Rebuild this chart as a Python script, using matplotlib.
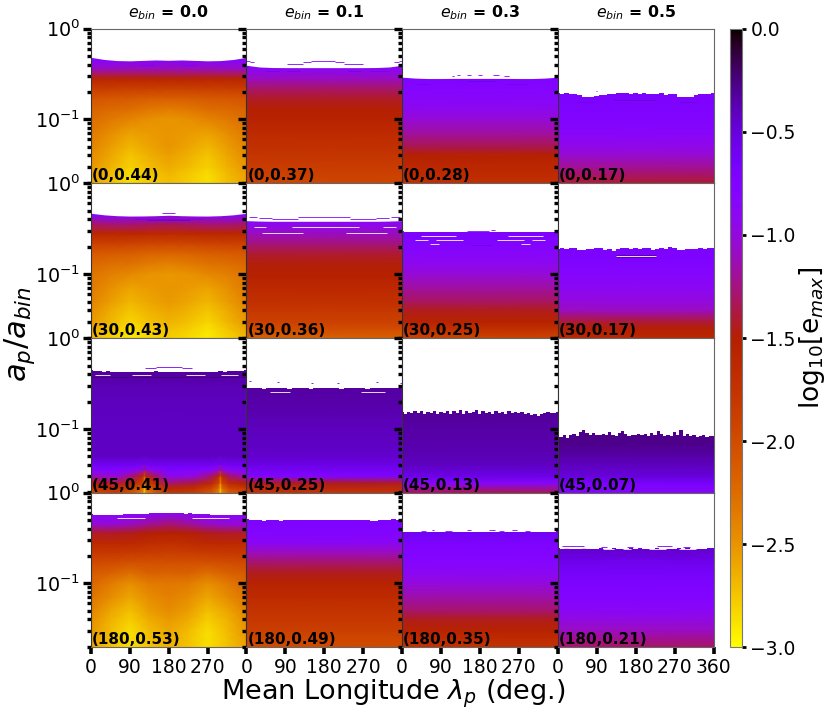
import numpy as np
import matplotlib
matplotlib.use("Agg")
import matplotlib.pyplot as plt
from matplotlib.colors import Normalize
from matplotlib.cm import ScalarMappable
from matplotlib.ticker import LogLocator, NullFormatter

W, H = 830, 719
ebin_labels = ["0.0", "0.1", "0.3", "0.5"]
xtick_vals = [0, 90, 180, 270]
cbar_ticks = [-3.0, -2.5, -2.0, -1.5, -1.0, -0.5, 0.0]

# semi-major axis levels (a_p/a_bin), bottom to top
L = [0.019, 0.025, 0.03, 0.04, 0.05, 0.07, 0.10, 0.13, 0.17, 0.22, 0.28, 0.36, 0.45, 0.60]
# half-range longitudes for the panels that vary with longitude (mirrored about 180)
LON_HALF = [0, 45, 90, 135, 180]

E00 = [[-2.60, -2.72, -2.87, -2.78, -2.72],
       [-2.56, -2.70, -2.85, -2.76, -2.68],
       [-2.50, -2.65, -2.80, -2.70, -2.62],
       [-2.45, -2.60, -2.75, -2.64, -2.56],
       [-2.40, -2.55, -2.68, -2.58, -2.50],
       [-2.34, -2.47, -2.57, -2.54, -2.50],
       [-2.26, -2.34, -2.41, -2.48, -2.50],
       [-2.18, -2.23, -2.26, -2.33, -2.36],
       [-2.08, -2.10, -2.12, -2.15, -2.15],
       [-1.85, -1.85, -1.87, -1.87, -1.88],
       [-1.58, -1.58, -1.58, -1.58, -1.58],
       [-1.10, -1.10, -1.12, -1.12, -1.12],
       [-0.82, -0.82, -0.82, -0.82, -0.82],
       [-0.80, -0.80, -0.80, -0.80, -0.80]]
E10 = [[-2.70, -2.82, -2.92, -2.85, -2.80],
       [-2.60, -2.75, -2.88, -2.78, -2.72],
       [-2.52, -2.68, -2.82, -2.72, -2.65],
       [-2.45, -2.62, -2.75, -2.66, -2.58],
       [-2.40, -2.55, -2.68, -2.60, -2.52],
       [-2.34, -2.48, -2.58, -2.54, -2.50],
       [-2.30, -2.37, -2.43, -2.49, -2.51],
       [-2.22, -2.27, -2.29, -2.35, -2.39],
       [-2.10, -2.13, -2.15, -2.18, -2.20],
       [-1.88, -1.88, -1.90, -1.93, -1.93],
       [-1.60, -1.60, -1.60, -1.62, -1.64],
       [-1.28, -1.25, -1.25, -1.28, -1.32],
       [-0.82, -0.82, -0.82, -0.82, -0.82],
       [-0.80, -0.80, -0.80, -0.80, -0.80]]
E30 = [[-2.58, -2.72, -2.86, -2.74, -2.66],
       [-2.54, -2.72, -2.86, -2.72, -2.63],
       [-2.50, -2.70, -2.85, -2.70, -2.60],
       [-2.45, -2.65, -2.78, -2.62, -2.52],
       [-2.40, -2.60, -2.72, -2.55, -2.45],
       [-2.30, -2.45, -2.60, -2.45, -2.38],
       [-2.20, -2.35, -2.47, -2.35, -2.33],
       [-2.12, -2.17, -2.27, -2.17, -2.19],
       [-1.98, -2.00, -2.03, -2.03, -2.03],
       [-1.80, -1.80, -1.82, -1.85, -1.87],
       [-1.62, -1.62, -1.62, -1.67, -1.70],
       [-1.42, -1.42, -1.45, -1.50, -1.52],
       [-1.02, -1.02, -1.08, -1.20, -1.28],
       [-0.80, -0.80, -0.80, -0.80, -0.85]]

# the (45, .) panel of the first column: a low band with two cusps, then a plain profile
LOW20_L = [0.019, 0.022, 0.025, 0.03, 0.035, 0.04, 0.05]
LOW20_LON = [0, 60, 100, 118, 122, 124, 126, 130, 150, 180, 240, 280, 294, 298, 300, 302, 306, 320, 360]
_c0 = [-2.00, -1.80, -1.50, -1.10, -0.80, -0.60, -0.42]
_c60 = [-1.90, -1.70, -1.40, -1.00, -0.78, -0.60, -0.42]
_c100 = [-2.15, -1.95, -1.65, -1.30, -0.88, -0.62, -0.42]
_c118 = [-2.40, -2.20, -1.90, -1.60, -1.00, -0.65, -0.42]
_c122 = [-2.55, -2.40, -2.10, -1.75, -1.15, -0.68, -0.42]
_c124 = [-2.85, -2.75, -2.55, -2.10, -1.35, -0.72, -0.42]
_c180 = [-1.80, -1.60, -1.30, -0.90, -0.75, -0.60, -0.42]
LOW20 = [_c0, _c60, _c100, _c118, _c122, _c124, _c122, _c118, _c100, _c180,
         _c60, _c100, _c118, _c122, _c124, _c122, _c118, _c100, _c0]
UP20_L = [0.05, 0.10, 0.20, 0.30, 0.40, 0.60]
UP20 = [-0.42, -0.42, -0.40, -0.38, -0.33, -0.30]

# plain vertical profiles on levels L
E01 = [-1.95, -1.90, -1.85, -1.78, -1.72, -1.65, -1.55, -1.50, -1.42, -1.30, -1.10, -0.90, -0.80, -0.80]
E02 = [-1.70, -1.65, -1.60, -1.52, -1.35, -1.18, -1.02, -0.92, -0.85, -0.80, -0.75, -0.72, -0.72, -0.72]
E03 = [-1.42, -1.30, -1.20, -1.05, -0.95, -0.85, -0.78, -0.74, -0.72, -0.70, -0.70, -0.70, -0.70, -0.70]
E11 = [-2.20, -2.00, -1.90, -1.80, -1.72, -1.62, -1.52, -1.48, -1.40, -1.25, -1.10, -0.90, -0.85, -0.85]
E12 = [-1.95, -1.70, -1.55, -1.45, -1.32, -1.18, -1.02, -0.92, -0.85, -0.78, -0.72, -0.72, -0.72, -0.72]
E13 = [-1.62, -1.50, -1.40, -1.10, -1.00, -0.90, -0.82, -0.76, -0.72, -0.70, -0.70, -0.70, -0.70, -0.70]
E21 = [-1.80, -1.45, -0.75, -0.55, -0.45, -0.42, -0.40, -0.38, -0.36, -0.34, -0.33, -0.33, -0.33, -0.33]
E22 = [-1.40, -0.85, -0.55, -0.42, -0.38, -0.36, -0.34, -0.32, -0.30, -0.30, -0.30, -0.30, -0.30, -0.30]
E23 = [-0.85, -0.68, -0.50, -0.40, -0.35, -0.28, -0.28, -0.28, -0.28, -0.28, -0.28, -0.28, -0.28, -0.28]
E31 = [-2.00, -1.95, -1.88, -1.80, -1.75, -1.65, -1.55, -1.45, -1.30, -1.10, -0.88, -0.78, -0.75, -0.70]
E32 = [-1.75, -1.65, -1.55, -1.45, -1.30, -1.15, -1.00, -0.90, -0.82, -0.77, -0.72, -0.60, -0.60, -0.60]
E33 = [-1.32, -1.20, -1.10, -0.98, -0.88, -0.78, -0.72, -0.65, -0.58, -0.48, -0.48, -0.48, -0.48, -0.48]

# stability edge a_p/a_bin, evenly spaced from longitude 0 to 360
EDGE00 = [.483, .458, .445, .442, .447, .452, .448, .452, .447, .442, .445, .458, .483]
EDGE01 = [.395, .378, .373, .372, .372, .372, .372, .372, .372, .372, .373, .378, .395]
EDGE02 = [.292, .285, .282, .282, .283, .283, .283, .283, .283, .282, .282, .285, .292]
EDGE03 = [.193, .191, .193, .188, .192, .186, .178, .177, .178, .180, .184, .186, .189, .192, .193, .193, .193, .192, .193,
          .190, .193, .192, .190, .192, .193, .187, .191, .188, .178, .176, .176, .177, .186, .190, .188, .192, .193]
EDGE10 = [.468, .450, .440, .436, .437, .440, .445, .440, .437, .436, .440, .450, .468]
EDGE11 = [.388, .384, .382, .382, .382, .382, .382, .382, .382, .382, .382, .384, .388]
EDGE12 = [.296, .294, .293, .290, .291, .293, .292, .289, .290, .293, .294, .292, .291, .293, .290, .292, .293, .291, .293,
          .290, .292, .293, .291, .292, .293, .290, .292, .291, .293, .292, .290, .291, .293, .292, .293, .294, .298]
EDGE13 = [.191, .194, .190, .192, .193, .186, .184, .187, .190, .194, .192, .186, .188, .182, .190, .193, .192, .190, .193,
          .188, .192, .194, .183, .190, .194, .191, .197, .192, .186, .184, .188, .190, .191, .193, .189, .192, .194]
EDGE20 = [.445, .432, .438, .428, .430, .425, .422, .425, .420, .425, .428, .425, .428, .425, .428, .430, .428, .425, .425,
          .428, .425, .428, .425, .425, .420, .423, .425, .422, .420, .428, .430, .425, .435, .430, .438, .432, .445]
EDGE21 = [.282, .280, .279, .281, .278, .280, .282, .279, .281, .280, .278, .281, .279, .282, .280, .278, .281, .280, .279,
          .282, .280, .281, .278, .280, .282, .279, .281, .280, .278, .281, .282, .279, .280, .281, .279, .281, .282]
EDGE22 = [.152, .146, .154, .150, .156, .148, .158, .145, .152, .149, .157, .147, .153, .150, .159, .146, .156, .150, .161,
          .144, .158, .148, .155, .160, .146, .157, .150, .154, .147, .156, .149, .153, .146, .158, .151, .155, .149, .153,
          .146, .150, .143, .147, .140, .146, .149, .152, .148, .151, .152]
EDGE23 = [.084, .082, .086, .079, .085, .088, .084, .092, .096, .089, .086, .090, .086, .085, .088, .086, .092, .086, .084,
          .089, .095, .088, .084, .086, .085, .088, .085, .087, .084, .090, .085, .094, .087, .084, .086, .083, .092, .086,
          .096, .084, .088, .083, .085, .082, .083, .085, .082, .083, .083]
EDGE30 = [.575, .570, .572, .566, .570, .573, .568, .572, .576, .580, .578, .584, .588, .585, .592, .590, .596, .594, .600,
          .595, .592, .595, .586, .590, .580, .584, .575, .578, .570, .574, .568, .572, .566, .570, .572, .568, .578]
EDGE31 = [.510, .500, .505, .496, .490, .498, .494, .498, .492, .496, .500, .495, .502, .498, .504, .506, .500, .505, .502,
          .506, .498, .502, .496, .500, .504, .497, .500, .494, .498, .490, .492, .496, .498, .503, .508, .505, .512]
EDGE32 = [.372, .366, .366, .366, .367, .368, .367, .367, .368, .367, .366, .367, .368, .367, .366, .367, .368, .367, .367,
          .366, .367, .368, .367, .367, .366, .368, .367, .366, .368, .367, .367, .368, .368, .368, .370, .372, .374]
EDGE33 = [.243, .241, .243, .240, .242, .240, .243, .241, .240, .242, .243, .241, .240, .243, .241, .242, .240, .243, .241,
          .243, .240, .242, .241, .243, .240, .242, .241, .240, .243, .241, .243, .240, .242, .241, .240, .243, .244]

# thin features: (longitude start, longitude end, a_p/a_bin, log10 e_max or None for a white gap)
S00 = [(20, 30, .400, -1.0), (115, 145, .395, -0.7), (210, 240, .395, -0.7), (325, 340, .400, -1.0)]
S01 = [(0, 8, .440, -0.75), (8, 18, .425, -0.75), (94, 130, .405, -0.75), (130, 150, .425, -0.75), (150, 205, .438, -0.75),
       (205, 225, .425, -0.75), (225, 270, .405, -0.75), (342, 352, .425, -0.75), (352, 360, .440, -0.75),
       (45, 75, .345, -0.6), (95, 125, .345, -0.6), (235, 265, .345, -0.6), (285, 330, .345, -0.6)]
S02 = [(115, 120, .300, -0.75), (128, 135, .310, -0.75), (150, 160, .305, -0.75), (175, 185, .305, -0.75),
       (210, 225, .305, -0.75), (235, 248, .302, -0.75), (150, 215, .265, -0.55), (35, 60, .245, -0.6), (245, 290, .245, -0.6)]
S03 = [(88, 90, .205, -0.75), (130, 225, .165, -0.45), (42, 82, .155, -0.55), (282, 322, .155, -0.55)]
S10 = [(165, 195, .470, -0.75), (100, 260, .405, -0.65), (130, 230, .395, -0.5)]
S11 = [(5, 25, .422, -0.75), (30, 60, .412, -0.75), (60, 120, .405, -0.75), (120, 240, .422, -0.75), (240, 300, .405, -0.75),
       (300, 330, .412, -0.75), (335, 355, .422, -0.75),
       (18, 45, .327, None), (105, 260, .327, None), (315, 345, .327, None),
       (35, 130, .287, -0.4), (230, 325, .287, -0.4), (35, 130, .281, None), (230, 325, .281, None)]
S12 = [(45, 125, .260, None), (245, 325, .260, None), (30, 60, .237, None), (78, 140, .237, None),
       (220, 283, .237, None), (300, 331, .237, None), (65, 85, .217, None), (275, 295, .217, None),
       (150, 200, .300, -0.75), (205, 215, .310, -0.75), (160, 205, .208, -0.55)]
S13 = [(135, 228, .157, None), (135, 228, .161, -0.35), (135, 228, .153, -0.35)]
S20 = [(126, 150, .470, -0.6), (150, 210, .485, -0.6), (210, 234, .470, -0.6), (10, 45, .392, None), (95, 140, .392, None),
       (220, 265, .392, None), (300, 340, .392, None), (0, 360, .370, -0.22)]
S21 = [(55, 100, .258, None), (265, 320, .258, None), (5, 10, .335, -0.45), (70, 75, .325, -0.45), (150, 155, .320, -0.45),
       (210, 215, .322, -0.45), (300, 305, .330, -0.45), (355, 360, .320, -0.45)]
S30 = [(60, 125, .520, None), (235, 320, .520, None)]
S32 = [(45, 55, .380, -0.75), (70, 75, .385, -0.75), (100, 115, .382, -0.75), (150, 160, .385, -0.75), (200, 215, .390, -0.75),
       (225, 235, .382, -0.75), (255, 265, .385, -0.75), (285, 295, .380, -0.75)]
S33 = [(5, 90, .244, None), (105, 130, .238, None), (150, 170, .240, None), (210, 250, .240, None), (280, 320, .238, None),
       (10, 60, .256, -0.6), (100, 115, .252, -0.6), (160, 175, .252, -0.6), (230, 265, .255, -0.6), (290, 305, .252, -0.6)]

panels = [
    [(E00, EDGE00, S00, "(0,0.44)"), (E01, EDGE01, S01, "(0,0.37)"), (E02, EDGE02, S02, "(0,0.28)"), (E03, EDGE03, S03, "(0,0.17)")],
    [(E10, EDGE10, S10, "(30,0.43)"), (E11, EDGE11, S11, "(30,0.36)"), (E12, EDGE12, S12, "(30,0.25)"), (E13, EDGE13, S13, "(30,0.17)")],
    [(None, EDGE20, S20, "(45,0.41)"), (E21, EDGE21, S21, "(45,0.25)"), (E22, EDGE22, [], "(45,0.13)"), (E23, EDGE23, [], "(45,0.07)")],
    [(E30, EDGE30, S30, "(180,0.53)"), (E31, EDGE31, [], "(180,0.49)"), (E32, EDGE32, S32, "(180,0.35)"), (E33, EDGE33, S33, "(180,0.21)")],
]

norm = Normalize(-3, 0)
cmap = plt.get_cmap("gnuplot_r")
col_x = [91, 246.4, 402, 557.7, 713.5]
row_y = [28.7, 183.3, 338.3, 492.7, 647.3]
YMIN = 0.0197

fig = plt.figure(figsize=(W / 100, H / 100), dpi=100)


def mesh(ax, lon, lev, c):
    X, Y = np.meshgrid(lon, lev)
    ax.pcolormesh(X, Y, np.array(c), shading="gouraud", cmap=cmap, norm=norm, zorder=1, rasterized=True)


for r in range(4):
    for c in range(4):
        ax = fig.add_axes([col_x[c] / W, 1 - row_y[r + 1] / H,
                           (col_x[c + 1] - col_x[c]) / W, (row_y[r + 1] - row_y[r]) / H])
        E, edge, streaks, label = panels[r][c]
        if E is None:
            mesh(ax, LOW20_LON, LOW20_L, np.array(LOW20).T)
            mesh(ax, [0, 360], UP20_L, np.column_stack([UP20, UP20]))
        elif np.ndim(E) == 2:
            half = np.array(E)
            lon = LON_HALF + [360 - v for v in LON_HALF[-2::-1]]
            mesh(ax, lon, L, np.hstack([half, half[:, -2::-1]]))
        else:
            mesh(ax, [0, 360], L, np.column_stack([E, E]))
        edge_lon = np.linspace(0, 360, len(edge))
        step = "mid" if len(edge) > 13 else None
        ax.fill_between(edge_lon, edge, 1.0, step=step, color="white", linewidth=0, zorder=2)
        for lon0, lon1, a, v in streaks:
            color = "white" if v is None else cmap(norm(v))
            ax.plot([lon0, lon1], [a, a], color=color, lw=0.7, alpha=0.85, zorder=3, solid_capstyle="butt")
        ax.set_yscale("log")
        ax.set_xlim(0, 360)
        ax.set_ylim(YMIN, 1)
        ax.yaxis.set_major_locator(LogLocator(base=10, numticks=6))
        ax.yaxis.set_minor_locator(LogLocator(base=10, subs=np.arange(2, 10) * 0.1, numticks=12))
        ax.yaxis.set_minor_formatter(NullFormatter())
        ax.tick_params(axis="y", which="major", length=6, width=2.4, labelsize=13.8, pad=2, labelleft=(c == 0))
        ax.tick_params(axis="y", which="minor", length=3.2, width=2.4)
        if r == 3:
            ax.set_xticks(xtick_vals + ([360] if c == 3 else []))
            ax.tick_params(axis="x", length=5, width=2.6, labelsize=13.5, pad=3)
        else:
            ax.set_xticks([])
        for s in ax.spines.values():
            s.set_linewidth(0.8)
            s.set_color("#666666")
            s.set_zorder(4)
        ax.spines["left"].set_color("#333333")
        ax.text(0.008, 0.0, label, transform=ax.transAxes, ha="left", va="bottom",
                fontsize=11, fontweight="bold", color="black", zorder=5)
        if r == 0:
            ax.text(0.5, 1.045, r"$e_{bin}$ = " + ebin_labels[c], transform=ax.transAxes, ha="center",
                    va="bottom", fontsize=11.3, fontweight="bold")

cax = fig.add_axes([729.7 / W, 1 - 647.3 / H, 12.3 / W, (647.3 - 28.7) / H])
cb = fig.colorbar(ScalarMappable(norm=norm, cmap=cmap), cax=cax)
cb.set_ticks(cbar_ticks)
cb.ax.tick_params(length=3, width=2, labelsize=13.5, pad=3)
cb.outline.set_edgecolor("#777777")
cb.outline.set_linewidth(0.8)

fig.text(20 / W, 1 - 334 / H, r"$a_p/a_{bin}$", rotation=90, ha="center", va="center", fontsize=22)
fig.text(393 / W, 1 - 694 / H, r"Mean Longitude $\lambda_p$ (deg.)", ha="center", va="center", fontsize=19.5)
fig.text(812 / W, 1 - 338 / H, r"log$_{10}$[e$_{max}$]", rotation=90, ha="center", va="center", fontsize=19)

fig.savefig("out.png", dpi=100)
